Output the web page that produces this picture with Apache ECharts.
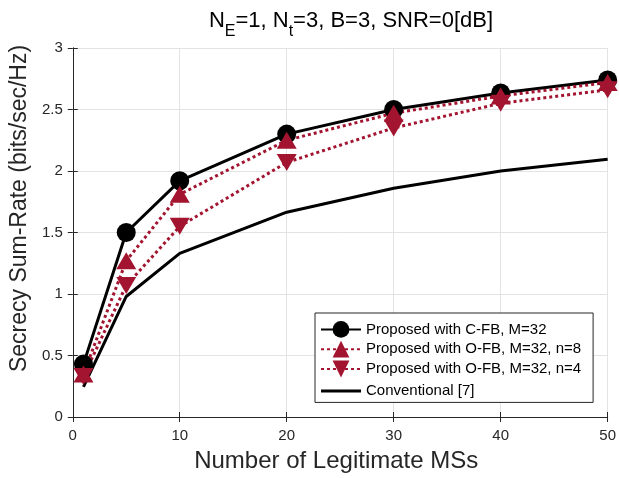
<!DOCTYPE html>
<html><head><meta charset="utf-8">
<script src="https://cdn.jsdelivr.net/npm/echarts@6/dist/echarts.min.js"></script>
<style>html,body{margin:0;padding:0;background:#fff}#c{width:619px;height:478px}</style>
</head><body><div id="c"></div>
<script>
const xValues = [1, 5, 10, 20, 30, 40, 50];
const cfb = [0.43, 1.50, 1.92, 2.30, 2.50, 2.635, 2.74];
const ofb8 = [0.35, 1.27, 1.81, 2.25, 2.47, 2.61, 2.72];
const ofb4 = [0.33, 1.07, 1.55, 2.07, 2.35, 2.55, 2.66];
const conv = [0.245, 0.98, 1.33, 1.665, 1.86, 2.00, 2.095];
const seriesNames = ['Proposed with C-FB, M=32', 'Proposed with O-FB, M=32, n=8', 'Proposed with O-FB, M=32, n=4', 'Conventional [7]'];
const xTicks = [0, 10, 20, 30, 40, 50];
const yTicks = [0, 0.5, 1, 1.5, 2, 2.5, 3];

const FONT = "'Liberation Sans', Arial, Helvetica, sans-serif";
const RED = '#A2142F';
const pair = a => xValues.map((x, i) => [x, a[i]]);

const chart = echarts.init(document.getElementById('c'), null, {renderer: 'canvas'});
const axisCommon = {
  axisLine: {show: true, lineStyle: {color: '#262626', width: 1}},
  axisTick: {show: true, inside: true, length: 5, lineStyle: {color: '#262626'}},
};
chart.setOption({
  animation: false,
  backgroundColor: '#fff',
  textStyle: {fontFamily: FONT},
  title: {
    text: '{n|N}{s|E}{n|=1, N}{s|t}{n|=3, B=3, SNR=0[dB]}',
    left: 346, top: 5, textAlign: 'center',
    textStyle: {
      fontWeight: 'normal',
      rich: {
        n: {fontSize: 22, fontFamily: FONT, fontWeight: 'normal', color: '#000', lineHeight: 22, verticalAlign: 'top'},
        s: {fontSize: 16, fontFamily: FONT, fontWeight: 'normal', color: '#000', lineHeight: 16, padding: [14, 0, 0, 0], verticalAlign: 'top'}
      }
    }
  },
  grid: {left: 72, right: 7, top: 48, bottom: 60, containLabel: false},
  xAxis: [{
    type: 'value', min: 0, max: 50, interval: 10,
    name: 'Number of Legitimate MSs', nameLocation: 'middle', nameGap: 32,
    nameTextStyle: {fontSize: 24, fontFamily: FONT, color: '#262626', padding: [0, 8, 0, 0]},
    axisLabel: {fontSize: 15, fontFamily: FONT, color: '#262626', margin: 11},
    splitLine: {show: true, lineStyle: {color: '#e3e3e3', width: 1}},
    ...axisCommon
  }, {
    type: 'value', min: 0, max: 50, interval: 10, position: 'top',
    axisLabel: {show: false}, splitLine: {show: false}, ...axisCommon
  }],
  yAxis: [{
    type: 'value', min: 0, max: 3, interval: 0.5,
    name: 'Secrecy Sum-Rate (bits/sec/Hz)', nameLocation: 'middle', nameGap: 39,
    nameTextStyle: {fontSize: 23, fontFamily: FONT, color: '#262626', padding: [0, 0, 0, 48]},
    axisLabel: {fontSize: 15, fontFamily: FONT, color: '#262626', margin: 10},
    splitLine: {show: true, lineStyle: {color: '#e3e3e3', width: 1}},
    ...axisCommon
  }, {
    type: 'value', min: 0, max: 3, interval: 0.5, position: 'right',
    axisLabel: {show: false}, splitLine: {show: false}, ...axisCommon
  }],
  legend: {
    orient: 'vertical', left: 315, top: 313,
    padding: [8, 12, 1, 5], itemGap: 3,
    itemWidth: 40, itemHeight: 21,
    backgroundColor: '#fff', borderColor: '#262626', borderWidth: 1,
    textStyle: {fontSize: 15, fontFamily: FONT, color: '#000'},
    data: [
      {name: seriesNames[0]},
      {name: seriesNames[1]},
      {name: seriesNames[2]},
      {name: seriesNames[3], icon: 'path://M0,0L0.01,0L0.01,0.01Z M0,21L0.01,21L0.01,20.99Z M0,9L40,9L40,12L0,12Z'}
    ]
  },
  series: [
    {name: seriesNames[0], type: 'line', data: pair(cfb), symbol: 'circle', symbolSize: 19,
     itemStyle: {color: '#000'}, lineStyle: {color: '#000', width: 3}},
    {name: seriesNames[1], type: 'line', data: pair(ofb8), symbol: 'triangle', symbolSize: [20, 17],
     itemStyle: {color: RED}, lineStyle: {color: RED, width: 3, type: [3, 3]}},
    {name: seriesNames[2], type: 'line', data: pair(ofb4), symbol: 'path://M0,0 L10,0 L5,8.5 Z', symbolSize: [20, 17],
     itemStyle: {color: RED}, lineStyle: {color: RED, width: 3, type: [3, 3]}},
    {name: seriesNames[3], type: 'line', data: pair(conv), symbol: 'none', showSymbol: false,
     itemStyle: {color: '#000'}, lineStyle: {color: '#000', width: 3}}
  ]
});
</script></body></html>
